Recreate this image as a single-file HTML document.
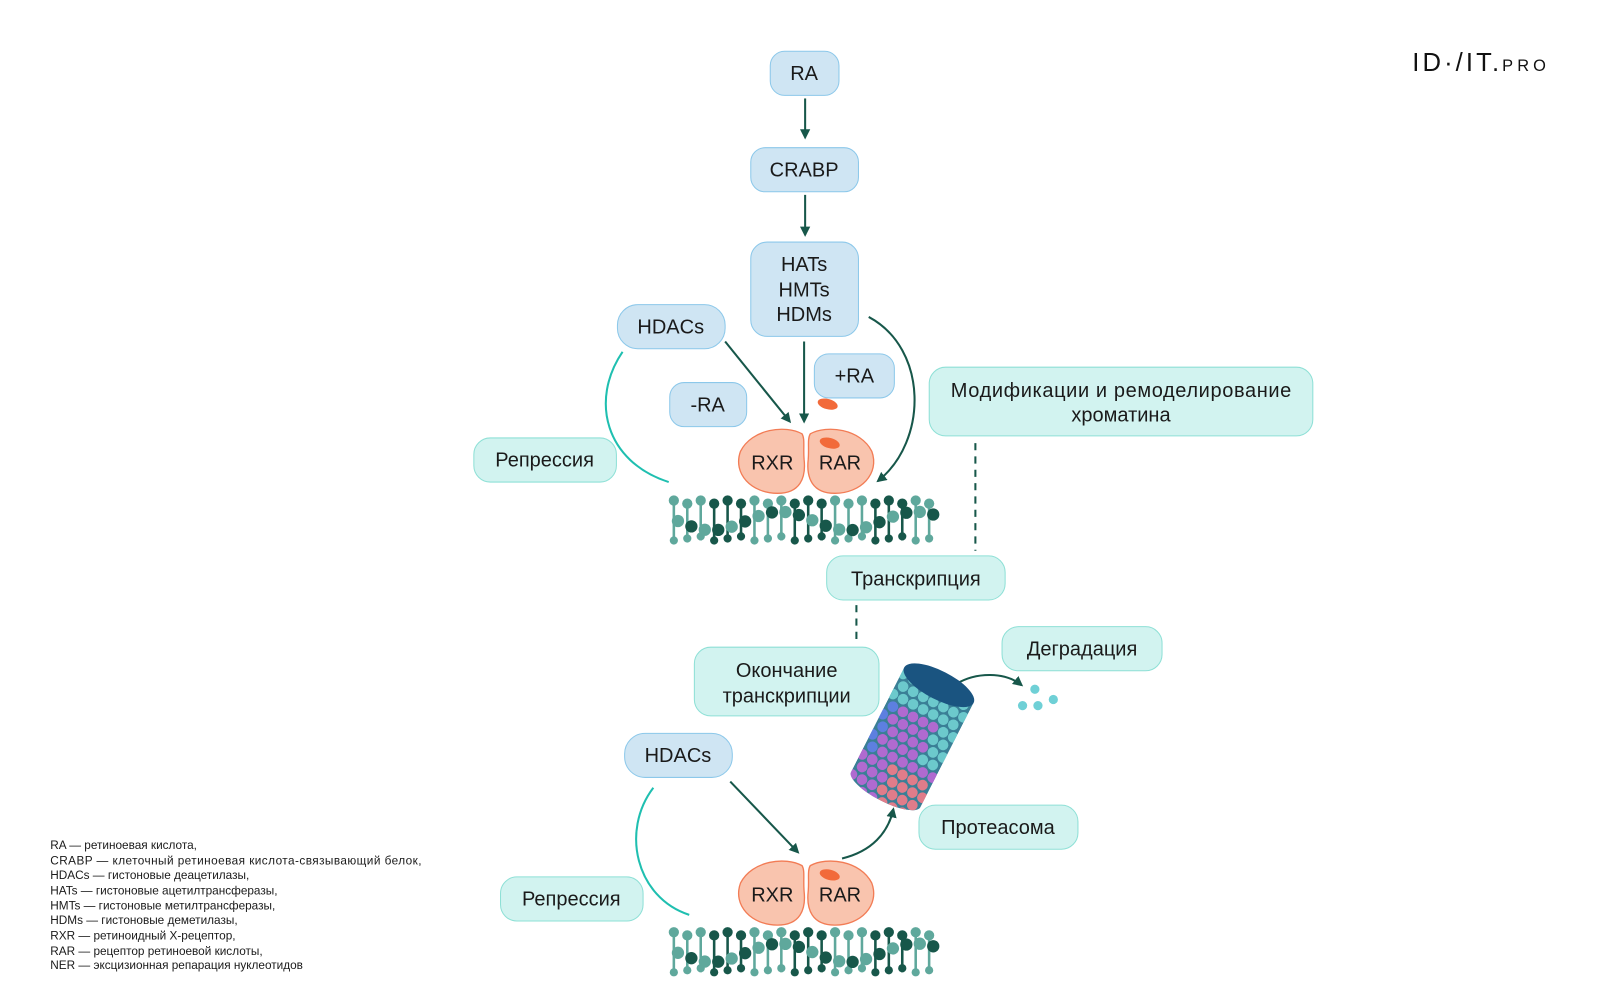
<!DOCTYPE html>
<html><head><meta charset="utf-8"><style>
html,body{margin:0;padding:0;background:#fff;}
svg{display:block;font-family:"Liberation Sans","DejaVu Sans",sans-serif;}
</style></head><body>
<svg id="s" width="1600" height="1000" viewBox="0 0 1560 975" xmlns="http://www.w3.org/2000/svg">
<defs>
<marker id="ar" viewBox="0 0 10 10" refX="8" refY="5" markerWidth="5" markerHeight="5" orient="auto"><path d="M0,0 L10,5 L0,10 z" fill="#17574a"/></marker>
<clipPath id="cyl"><path d="M-38,-56 L38,-56 L38,58 A38,12 0 0 1 -38,58 Z"/></clipPath>
</defs>
<g font-size="19.5" fill="#1a1a1a" text-anchor="middle">
<g fill="#cfe5f3" stroke="#8cc8ea" stroke-width="1">
<rect x="751" y="50" width="67" height="43" rx="14"/>
<rect x="732" y="144" width="105" height="43" rx="14"/>
<rect x="732" y="236" width="105" height="92" rx="16"/>
<rect x="602" y="297" width="105" height="43" rx="20"/>
<rect x="794" y="345" width="78" height="43" rx="14"/>
<rect x="653" y="373" width="75" height="43" rx="14"/>
<rect x="609" y="715" width="105" height="43" rx="20"/>
</g>
<g fill="#d2f3f0" stroke="#8ee0d6" stroke-width="1">
<rect x="462" y="427" width="139" height="43" rx="16"/>
<rect x="906" y="358" width="374" height="67" rx="16"/>
<rect x="806" y="542" width="174" height="43" rx="16"/>
<rect x="677" y="631" width="180" height="67" rx="16"/>
<rect x="977" y="611" width="156" height="43" rx="16"/>
<rect x="896" y="785" width="155" height="43" rx="16"/>
<rect x="488" y="855" width="139" height="43" rx="16"/>
</g>
<text x="784" y="78">RA</text>
<text x="784" y="172">CRABP</text>
<text x="784" y="264">HATs</text>
<text x="784" y="289">HMTs</text>
<text x="784" y="313">HDMs</text>
<text x="654" y="325">HDACs</text>
<text x="833" y="373">+RA</text>
<text x="690" y="401">-RA</text>
<text x="531" y="455">Репрессия</text>
<text x="1093" y="387" textLength="332">Модификации и ремоделирование</text>
<text x="1093" y="411">хроматина</text>
<text x="893" y="571">Транскрипция</text>
<text x="767" y="660">Окончание</text>
<text x="767" y="685">транскрипции</text>
<text x="1055" y="639">Деградация</text>
<text x="661" y="743">HDACs</text>
<text x="973" y="813">Протеасома</text>
<text x="557" y="883">Репрессия</text>
</g>
<g stroke="#17574a" stroke-width="2" fill="none" marker-end="url(#ar)">
<line x1="785" y1="96" x2="785" y2="134"/>
<line x1="785" y1="190" x2="785" y2="229"/>
<line x1="707" y1="333" x2="770" y2="411"/>
<line x1="784" y1="333" x2="784" y2="411"/>
<path d="M847,309 C905,340 905,430 856,469"/>
<line x1="712" y1="762" x2="778" y2="831"/>
<path d="M821,837 C850,830 866,812 871,789"/>
<path d="M932,667 C952,655 980,655 996,668"/>
</g>
<g stroke="#1fbfb0" stroke-width="2" fill="none">
<path d="M607,343 C575,390 590,450 652,470"/>
<path d="M637,768 C605,810 620,875 672,892"/>
</g>
<g stroke="#17574a" stroke-width="2" stroke-dasharray="7,6">
<line x1="951" y1="432" x2="951" y2="537"/>
<line x1="835" y1="590" x2="835" y2="628"/>
</g>
<ellipse cx="807" cy="394" rx="10" ry="5" fill="#f26a3a" transform="rotate(15 807 394)"/>
<g id="rec1">
<path d="M782,423 C766,414 733,418 722,440 C714,462 733,481 758,481 C780,481 786,466 784,448 C783,436 785,428 782,423 Z" fill="#f9c4ae" stroke="#f27c55" stroke-width="1.3"/>
<path d="M790,423 C806,414 839,418 850,440 C858,462 839,481 814,481 C792,481 786,466 788,448 C789,436 787,428 790,423 Z" fill="#f9c4ae" stroke="#f27c55" stroke-width="1.3"/>
<ellipse cx="809" cy="432" rx="10" ry="5" fill="#f26a3a" transform="rotate(15 809 432)"/>
<text x="753" y="458" font-size="19.5" text-anchor="middle" fill="#1a1a1a">RXR</text>
<text x="819" y="458" font-size="19.5" text-anchor="middle" fill="#1a1a1a">RAR</text>
</g>
<use href="#rec1" y="421"/>
<g id="dna1"></g>
<g id="dna2"></g>
<g id="prot" transform="translate(890,718) rotate(27)">
<g clip-path="url(#cyl)"><rect x="-38" y="-60" width="76" height="135" fill="#3a7f96"/><g id="balls"></g></g>
<ellipse cx="0" cy="-56" rx="38" ry="14" fill="#1a5480"/>
</g>
<g fill="#6fd0d6"><circle cx="1009" cy="672" r="4.5"/><circle cx="997" cy="688" r="4.5"/><circle cx="1012" cy="688" r="4.5"/><circle cx="1027" cy="682" r="4.5"/></g>
<g font-size="11.5" fill="#1a1a1a">
<text x="49" y="828">RA — ретиноевая кислота,</text>
<text x="49" y="843" textLength="362">CRABP — клеточный ретиноевая кислота-связывающий белок,</text>
<text x="49" y="857">HDACs — гистоновые деацетилазы,</text>
<text x="49" y="872">HATs — гистоновые ацетилтрансферазы,</text>
<text x="49" y="887">HMTs — гистоновые метилтрансферазы,</text>
<text x="49" y="901">HDMs — гистоновые деметилазы,</text>
<text x="49" y="916">RXR — ретиноидный X-рецептор,</text>
<text x="49" y="931">RAR — рецептор ретиноевой кислоты,</text>
<text x="49" y="945">NER — эксцизионная репарация нуклеотидов</text>
</g>
<text x="1377" y="69" font-size="25" fill="#111" letter-spacing="3">ID·/IT.<tspan font-size="16" letter-spacing="4">PRO</tspan></text>
</svg>
<script>
var NS="http://www.w3.org/2000/svg";
function el(p,t,a){var e=document.createElementNS(NS,t);for(var k in a)e.setAttribute(k,a[k]);p.appendChild(e);return e;}
function dna(id,y0){var g=document.getElementById(id);
for(var i=0;i<20;i++){var x=657+i*13.1;var ph=Math.sin(i*0.62);var c=(Math.floor(i/3)%2)?"#17574a":"#5fa89c";
el(g,"line",{x1:x,y1:y0+3,x2:x,y2:y0+42,stroke:c,"stroke-width":2.5});
el(g,"circle",{cx:x,cy:y0+3+(i%2)*3,r:5,fill:c});
el(g,"circle",{cx:x,cy:y0+42-(i%3)*2,r:4,fill:c});
var my=y0+14+(ph+1)*9;
el(g,"circle",{cx:x+4,cy:my,r:6,fill:(i%2)?"#17574a":"#5fa89c"});
}}
dna("dna1",485);dna("dna2",906);
var b=document.getElementById("balls");
for(var r=0;r<12;r++)for(var c=0;c<7;c++){var x=-36+c*11+(r%2)*5.5,y=-50+r*11;
var col=(c==0&&r>2&&r<8)?"#5d7fe0":(r<3?"#6cc9cc":(c>4&&r<7?"#6cc9cc":(r>7&&c>2?"#e07c8a":"#b06ad0")));
el(b,"circle",{cx:x,cy:y,r:5.2,fill:col});}
</script>
</body></html>
